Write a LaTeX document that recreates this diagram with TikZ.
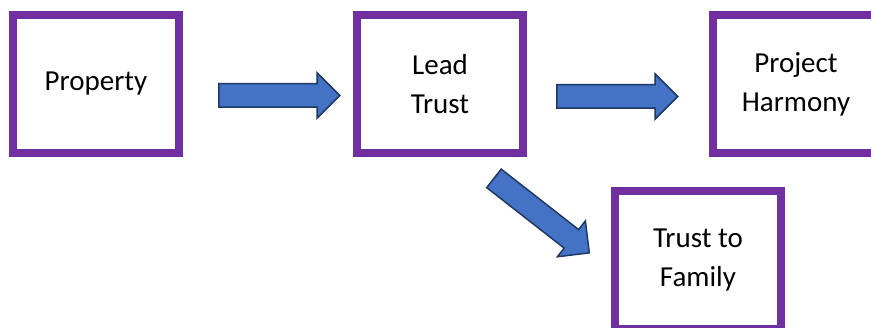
\documentclass[tikz,border=0pt]{standalone}
\usepackage{fontspec}
\setmainfont{Carlito}
\usetikzlibrary{positioning,shapes.arrows,calc}
\definecolor{boxpurple}{HTML}{7030A0}
\definecolor{arrowblue}{HTML}{4472C4}
\definecolor{arrowedge}{HTML}{203864}

\begin{document}
\begin{tikzpicture}[
    x=1pt, y=-1pt,
    stage/.style={draw=boxpurple, line width=8pt, rectangle, minimum width=166pt, minimum height=138pt, align=center, font=\fontsize{29}{39}\selectfont}, % purple boxes
    blockarrow/.style={single arrow, draw=arrowedge, fill=arrowblue, line width=1.5pt, minimum height=121pt, inner xsep=0pt, inner ysep=11pt, single arrow head extend=11pt} % blue arrows
  ]
  \useasboundingbox (0,0) rectangle (871,328);
  % Boxes
  \node [stage] (property) at (96,84) {Property};
  \node [stage, right=170pt of property] (lead) {Lead\\Trust};
  \node [stage, right=182pt of lead] (harmony) {Project\\Harmony};
  \node [stage, below right=30pt and 84pt of lead] (family) {Trust to\\Family};
  % Arrows between the boxes
  \node [blockarrow, right=35pt of property.east, yshift=-11.5pt] (toLead) {};
  \node [blockarrow, right=29pt of lead.east, yshift=-12.5pt] (toHarmony) {};
  \node [blockarrow, rotate=-38] (toFamily) at ($(lead.south east)+(10,55)$) {};
\end{tikzpicture}
\end{document}
